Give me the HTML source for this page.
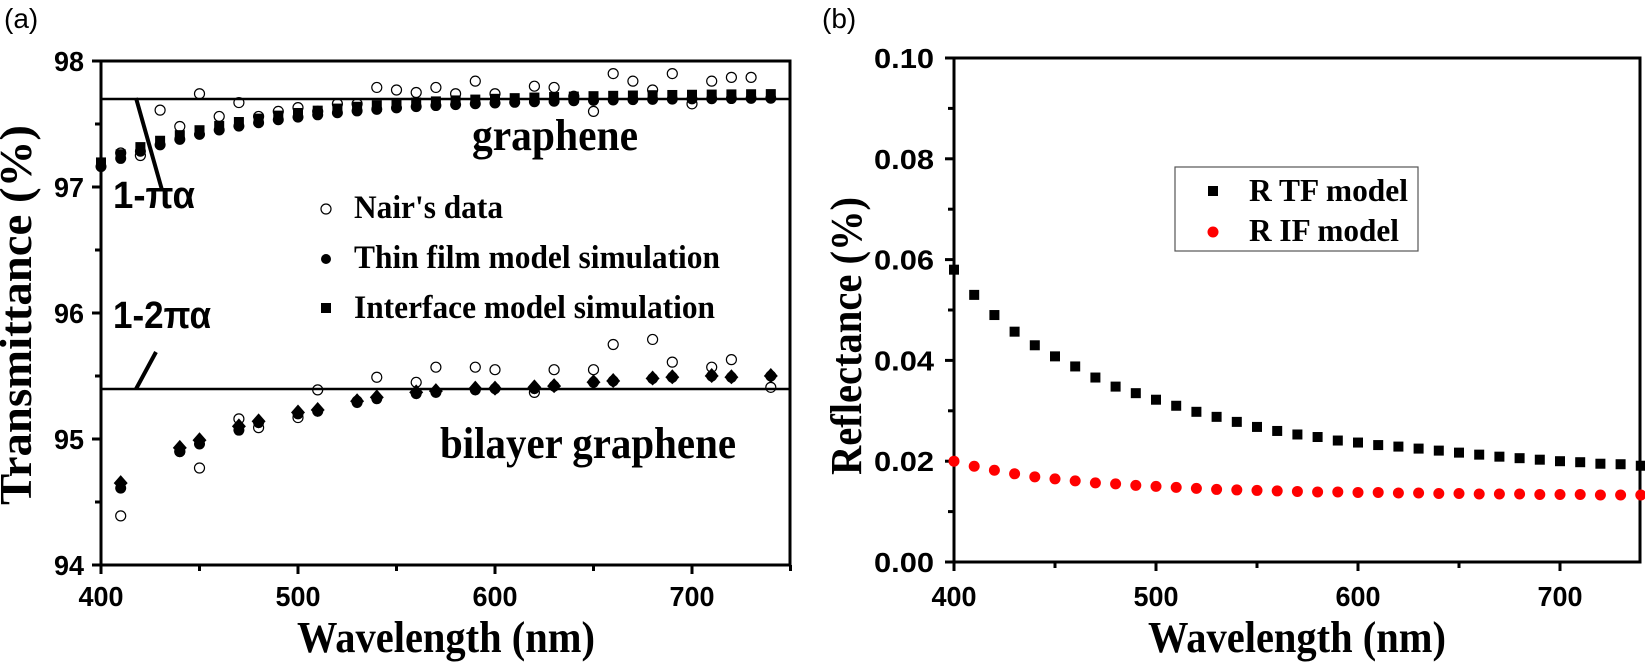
<!DOCTYPE html>
<html><head><meta charset="utf-8"><style>
html,body{margin:0;padding:0;background:#fff;}
svg{display:block;}
.sans{font-family:"Liberation Sans",sans-serif;font-weight:bold;}
.serif{font-family:"Liberation Serif",serif;font-weight:bold;}
</style></head><body>
<svg id="s" width="1645" height="667" viewBox="0 0 1645 667" xmlns="http://www.w3.org/2000/svg">
<rect width="1645" height="667" fill="#fff"/>
<text x="4" y="28" font-family="Liberation Sans,sans-serif" font-size="28">(a)</text>
<text x="822" y="28" font-family="Liberation Sans,sans-serif" font-size="28">(b)</text>
<rect x="101" y="61" width="689" height="504" fill="none" stroke="#000" stroke-width="3"/>
<rect x="954" y="58" width="686" height="504" fill="none" stroke="#000" stroke-width="3"/>
<g id="g"></g>
<line x1="101" y1="99" x2="790" y2="99" stroke="#000" stroke-width="2.5"/>
<line x1="101" y1="389" x2="790" y2="389" stroke="#000" stroke-width="2.5"/>
<line x1="136" y1="98" x2="162" y2="190" stroke="#000" stroke-width="4"/>
<line x1="156" y1="352" x2="136" y2="389" stroke="#000" stroke-width="4"/>
<text x="113" y="208" class="sans" font-size="38" textLength="82" lengthAdjust="spacingAndGlyphs">1-πα</text>
<text x="113" y="328" class="sans" font-size="38" textLength="98" lengthAdjust="spacingAndGlyphs">1-2πα</text>
<text x="472" y="150" class="serif" font-size="44" textLength="166" lengthAdjust="spacingAndGlyphs">graphene</text>
<text x="440" y="458" class="serif" font-size="44" textLength="296" lengthAdjust="spacingAndGlyphs">bilayer graphene</text>
<circle cx="326" cy="209" r="5" fill="#fff" stroke="#000" stroke-width="1.2"/>
<circle cx="326" cy="259" r="5" fill="#000"/>
<rect x="321" y="303" width="10" height="10" fill="#000"/>
<text x="354" y="218" class="serif" font-size="33" textLength="149" lengthAdjust="spacingAndGlyphs">Nair's data</text>
<text x="354" y="268" class="serif" font-size="33" textLength="366" lengthAdjust="spacingAndGlyphs">Thin film model simulation</text>
<text x="354" y="318" class="serif" font-size="33" textLength="361" lengthAdjust="spacingAndGlyphs">Interface model simulation</text>
<text transform="translate(31,315) rotate(-90)" text-anchor="middle" class="serif" font-size="46" textLength="380" lengthAdjust="spacingAndGlyphs">Transmittance (%)</text>
<text x="446" y="652" text-anchor="middle" class="serif" font-size="44" textLength="298" lengthAdjust="spacingAndGlyphs">Wavelength (nm)</text>
<text transform="translate(861,336) rotate(-90)" text-anchor="middle" class="serif" font-size="44" textLength="278" lengthAdjust="spacingAndGlyphs">Reflectance (%)</text>
<text x="1297" y="652" text-anchor="middle" class="serif" font-size="44" textLength="298" lengthAdjust="spacingAndGlyphs">Wavelength (nm)</text>
<rect x="1175" y="167" width="243" height="84" fill="#fff" stroke="#555" stroke-width="1.2"/>
<rect x="1208" y="186" width="10" height="10" fill="#000"/>
<circle cx="1213" cy="232" r="5.5" fill="#f00"/>
<text x="1249" y="201" class="serif" font-size="32" textLength="159" lengthAdjust="spacingAndGlyphs">R TF model</text>
<text x="1249" y="241" class="serif" font-size="32" textLength="150" lengthAdjust="spacingAndGlyphs">R IF model</text>
</svg>
<script>
var NS="http://www.w3.org/2000/svg",g=document.getElementById("g");
function el(t,a){var e=document.createElementNS(NS,t);for(var k in a)e.setAttribute(k,a[k]);g.appendChild(e);return e;}
function txt(x,y,s,anchor){var e=el("text",{x:x,y:y,"class":"sans","font-size":28,"text-anchor":anchor,textLength:s.length*15,lengthAdjust:"spacingAndGlyphs"});e.textContent=s;}
function ax(l){return 101+(l-400)*1.97;}
function ay(v){return 61+(98-v)*126;}
for(var v=94;v<=98;v+=0.5){var y=ay(v),maj=(v%1===0);el("line",{x1:101-(maj?9:6),y1:y,x2:101,y2:y,stroke:"#000","stroke-width":3});if(maj)txt(84,y+10,String(v),"end");}
for(var l=400;l<=750;l+=50){var x=ax(l),maj=(l%100===0);el("line",{x1:x,y1:565,x2:x,y2:565+(maj?9:6),stroke:"#000","stroke-width":3});if(maj&&l<750)txt(x,606,String(l),"middle");}
for(var l=400;l<=740;l+=10){var t=97.72-0.55*Math.exp(-(l-400)/80);var x=ax(l);
 el("rect",{x:x-5,y:ay(t+0.025)-5,width:10,height:10,fill:"#000"});
 el("circle",{cx:x,cy:ay(t)+1,r:5.5,fill:"#000"});}
var nairG=[[410,97.27],[420,97.25],[430,97.61],[440,97.48],[450,97.74],[460,97.56],[470,97.67],[480,97.56],[490,97.6],[500,97.63],[510,97.6],[520,97.66],[530,97.66],[540,97.79],[550,97.77],[560,97.75],[570,97.79],[580,97.74],[590,97.84],[600,97.74],[620,97.8],[630,97.79],[640,97.72],[650,97.6],[660,97.9],[670,97.84],[680,97.77],[690,97.9],[700,97.66],[710,97.84],[720,97.87],[730,97.87]];
nairG.forEach(function(p){el("circle",{cx:ax(p[0]),cy:ay(p[1]),r:5,fill:"none",stroke:"#000","stroke-width":1.2});});
var bi=[[410,94.65,94.61],[440,94.93,94.9],[450,94.99,94.96],[470,95.1,95.07],[480,95.14,95.13],[500,95.21,95.2],[510,95.23,95.22],[530,95.3,95.29],[540,95.33,95.32],[560,95.37,95.36],[570,95.38,95.37],[590,95.4,95.39],[600,95.4,95.4],[620,95.41,95.4],[630,95.42,95.42],[650,95.45,95.45],[660,95.46,95.46],[680,95.48,95.48],[690,95.49,95.49],[710,95.5,95.5],[720,95.49,95.49],[740,95.5,95.5]];
bi.forEach(function(p){var x=ax(p[0]);
 el("circle",{cx:x,cy:ay(p[2]),r:5.5,fill:"#000"});
 el("polygon",{points:(x)+","+(ay(p[1])-8)+" "+(x+7)+","+ay(p[1])+" "+x+","+(ay(p[1])+7)+" "+(x-7)+","+ay(p[1]),fill:"#000"});});
var nairB=[[410,94.39],[440,94.9],[450,94.77],[470,95.16],[480,95.09],[500,95.17],[510,95.39],[530,95.3],[540,95.49],[560,95.45],[570,95.57],[590,95.57],[600,95.55],[620,95.37],[630,95.55],[650,95.55],[660,95.75],[680,95.79],[690,95.61],[710,95.57],[720,95.63],[740,95.41]];
nairB.forEach(function(p){el("circle",{cx:ax(p[0]),cy:ay(p[1]),r:5,fill:"none",stroke:"#000","stroke-width":1.2});});
function bx(l){return 954+(l-400)*2.02;}
function by(v){return 562-v*5040;}
for(var i=0;i<=10;i++){var y=by(i/100),maj=(i%2===0);el("line",{x1:954-(maj?9:6),y1:y,x2:954,y2:y,stroke:"#000","stroke-width":3});if(maj)txt(934,y+10,(i/100).toFixed(2),"end");}
for(var l=400;l<=700;l+=50){var x=bx(l),maj=(l%100===0);el("line",{x1:x,y1:562,x2:x,y2:562+(maj?9:6),stroke:"#000","stroke-width":3});if(maj)txt(x,606,String(l),"middle");}
var K=[0.058,0.053,0.049,0.0457,0.043,0.0408,0.0388,0.0366,0.0348,0.0335,0.0322,0.031,0.0298,0.0288,0.0278,0.0268,0.026,0.0253,0.0248,0.0241,0.0237,0.0232,0.0229,0.0225,0.0221,0.0217,0.0213,0.0209,0.0206,0.0203,0.02,0.0198,0.0195,0.0194,0.0191];
var R=[0.02,0.019,0.0182,0.0175,0.0169,0.0165,0.0161,0.0157,0.0155,0.0152,0.015,0.0148,0.0146,0.0144,0.0143,0.0142,0.0141,0.014,0.0139,0.0139,0.0138,0.0138,0.0137,0.0137,0.0136,0.0136,0.0135,0.0135,0.0135,0.0134,0.0134,0.0134,0.0133,0.0133,0.0133];
for(var i=0;i<K.length;i++){var x=bx(400+10*i);
 el("rect",{x:x-5,y:by(K[i])-5,width:10,height:10,fill:"#000"});
 el("circle",{cx:x,cy:by(R[i]),r:5.5,fill:"#f00"});}
</script>
</body></html>
